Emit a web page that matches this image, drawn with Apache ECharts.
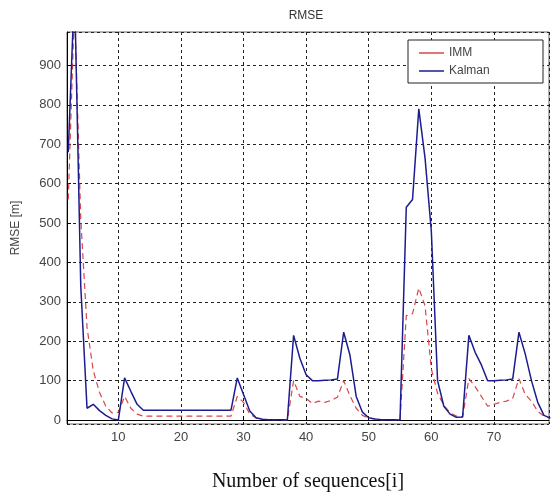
<!DOCTYPE html>
<html>
<head>
<meta charset="utf-8">
<title>RMSE</title>
<script src="https://cdn.jsdelivr.net/npm/echarts@6/dist/echarts.min.js"></script>
<style>
  html, body { margin: 0; padding: 0; background: #fff; }
  #chart { width: 552px; height: 497px; }
</style>
</head>
<body>
<div id="chart"></div>
<script>
// sequence number on the x axis
const sequences = [
  2, 3, 4, 5, 6, 7, 8, 9, 10, 11, 12, 13, 14, 15, 16, 17, 18, 19, 20,
  21, 22, 23, 24, 25, 26, 27, 28, 29, 30, 31, 32, 33, 34, 35, 36, 37, 38, 39, 40,
  41, 42, 43, 44, 45, 46, 47, 48, 49, 50, 51, 52, 53, 54, 55, 56, 57, 58, 59, 60,
  61, 62, 63, 64, 65, 66, 67, 68, 69, 70, 71, 72, 73, 74, 75, 76, 77, 78, 79
];

// RMSE [m]
const immRmse = [
  560, 1050, 510, 235, 125, 70, 35, 18, 20, 60, 30, 15, 10, 10, 10, 10, 10, 10, 10,
  10, 10, 10, 10, 10, 10, 10, 10, 60, 45, 15, 5, 2, 1, 1, 1, 0, 100, 60, 55,
  42, 48, 45, 50, 58, 100, 62, 30, 12, 5, 2, 1, 1, 1, 0, 265, 270, 335, 290, 130,
  68, 38, 18, 10, 8, 105, 85, 60, 35, 40, 45, 48, 55, 105, 65, 48, 22, 10, 5
];

const kalmanRmse = [
  680, 1100, 340, 30, 40, 24, 12, 3, 0, 107, 73, 40, 25, 25, 25, 25, 25, 25, 25,
  25, 25, 25, 25, 25, 25, 25, 25, 107, 65, 23, 6, 2, 1, 1, 1, 0, 215, 157, 115,
  100, 100, 101, 102, 104, 223, 165, 60, 20, 6, 3, 1, 1, 1, 0, 540, 560, 790, 665, 480,
  100, 35, 15, 7, 8, 215, 172, 140, 100, 100, 101, 102, 104, 223, 168, 100, 45, 12, 5
];

const seriesNames = ['IMM', 'Kalman'];

const chart = echarts.init(document.getElementById('chart'));

// 网格线：黑色虚点
const gridLine = { show: true, lineStyle: { color: '#222', type: [3, 3], width: 1 } };

const option = {
  backgroundColor: '#fff',
  animation: false,
  title: {
    text: 'RMSE',
    left: 301,
    top: 5,
    textAlign: 'center',
    textStyle: { fontFamily: 'Liberation Sans, Arial, sans-serif', fontSize: 12, fontWeight: 'normal', color: '#333' }
  },
  grid: {
    left: 67, right: 3, top: 32, bottom: 67,
    show: true,
    borderColor: '#666',
    borderWidth: 1
  },
  graphic: [
    {
      type: 'rect',
      z: 3,
      shape: { x: 408, y: 40, width: 135, height: 43 },
      style: { fill: '#fff', stroke: '#222', lineWidth: 1 }
    }
  ],
  legend: {
    data: [
      { name: seriesNames[0], icon: 'rect' },
      { name: seriesNames[1], icon: 'rect' }
    ],
    orient: 'vertical',
    left: 414,
    top: 41,
    z: 10,
    itemWidth: 25,
    itemHeight: 1.5,
    itemGap: 4,
    textStyle: { fontFamily: 'Liberation Sans, Arial, sans-serif', fontSize: 12, color: '#444', lineHeight: 14 }
  },
  xAxis: {
    type: 'value',
    min: 1.8,
    max: 78.8,
    splitNumber: 8,
    name: 'Number of sequences[i]',
    nameLocation: 'middle',
    nameGap: 48,
    nameTextStyle: { fontFamily: 'Liberation Serif, Times New Roman, serif', fontSize: 20, color: '#111' },
    axisLine: { lineStyle: { color: '#000', width: 1 } },
    axisTick: { inside: true, length: 4, lineStyle: { color: '#000' } },
    axisLabel: {
      showMinLabel: false, showMaxLabel: false,
      margin: 7,
      fontFamily: 'Liberation Sans, Arial, sans-serif', fontSize: 13, color: '#444'
    },
    splitLine: gridLine
  },
  yAxis: {
    type: 'value',
    min: -10,
    max: 985,
    splitNumber: 10,
    name: 'RMSE [m]',
    nameLocation: 'middle',
    nameGap: 45,
    nameTextStyle: { fontFamily: 'Liberation Sans, Arial, sans-serif', fontSize: 12, color: '#444' },
    axisLine: { show: true, lineStyle: { color: '#000', width: 1 } },
    axisTick: { show: true, inside: true, length: 4, lineStyle: { color: '#000' } },
    axisLabel: {
      showMinLabel: false, showMaxLabel: false,
      margin: 6,
      fontFamily: 'Liberation Sans, Arial, sans-serif', fontSize: 13, color: '#444'
    },
    splitLine: gridLine
  },
  series: [
    {
      name: seriesNames[0],
      type: 'line',
      data: sequences.map((s, i) => [s, immRmse[i]]),
      symbol: 'none',
      z: 2,
      lineStyle: { color: '#d9474a', width: 1.2, type: [6, 4] },
      itemStyle: { color: '#d9474a' }
    },
    {
      name: seriesNames[1],
      type: 'line',
      data: sequences.map((s, i) => [s, kalmanRmse[i]]),
      symbol: 'none',
      z: 2,
      lineStyle: { color: '#1c1c8f', width: 1.5 },
      itemStyle: { color: '#1c1c8f' }
    }
  ]
};

chart.setOption(option);
</script>
</body>
</html>
